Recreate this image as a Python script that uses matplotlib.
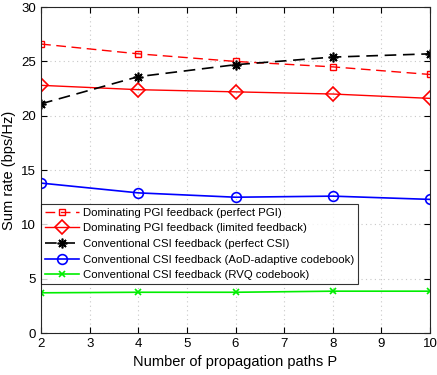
import matplotlib
matplotlib.use("Agg")
import matplotlib.pyplot as plt

plt.rcParams['font.family'] = ['Liberation Sans', 'DejaVu Sans']

P = [2, 4, 6, 8, 10]
pgi_perfect = [26.6, 25.7, 25.0, 24.5, 23.8]
pgi_limited = [22.8, 22.4, 22.2, 22.0, 21.6]
csi_perfect = [21.1, 23.6, 24.7, 25.4, 25.7]
csi_aod = [13.8, 12.9, 12.5, 12.6, 12.3]
csi_rvq = [3.7, 3.75, 3.75, 3.85, 3.85]

labels = ["Dominating PGI feedback (perfect PGI)",
          "Dominating PGI feedback (limited feedback)",
          "Conventional CSI feedback (perfect CSI)",
          "Conventional CSI feedback (AoD-adaptive codebook)",
          "Conventional CSI feedback (RVQ codebook)"]

fig = plt.figure(figsize=(4.37, 3.75), dpi=100)
ax = fig.add_axes([0.094, 0.112, 0.89, 0.869])

ax.plot(P, pgi_perfect, color='#ff0000', ls=(0, (7, 4)), marker='s', ms=5,
        mfc='none', mec='#ff0000', lw=1.0, label=labels[0])
ax.plot(P, pgi_limited, color='#ff0000', ls='-', marker='D', ms=7,
        mfc='none', mec='#ff0000', mew=1.2, lw=1.0, label=labels[1])
ax.plot(P, csi_perfect, color='black', ls=(0, (7, 4)), marker=(8, 2, 0), ms=7,
        mew=1.2, lw=1.2, label=labels[2])
ax.plot(P, csi_aod, color='#0000ff', ls='-', marker='o', ms=7,
        mfc='none', mec='#0000ff', mew=1.2, lw=1.2, label=labels[3])
ax.plot(P, csi_rvq, color='#00ee00', ls='-', marker='x', ms=5,
        mew=1.2, lw=1.2, label=labels[4])

ax.set_xlim(2, 10)
ax.set_ylim(0, 30)
ax.set_xticks(range(2, 11))
ax.set_yticks(range(0, 31, 5))
ax.tick_params(direction='in', top=True, right=True, labelsize=9.5, length=4)
ax.grid(True, ls=(0, (1, 3)), color='#c8c8c8', lw=0.8)
for s in ax.spines.values():
    s.set_linewidth(0.8)
    s.set_color('#262626')
ax.set_xlabel("Number of propagation paths P", fontsize=10.5)
ax.set_ylabel("Sum rate (bps/Hz)", fontsize=10.5)

leg = ax.legend(loc='upper left', bbox_to_anchor=(0, 0.397), fontsize=8.2,
                frameon=True, fancybox=False, edgecolor='black',
                borderpad=0.35, labelspacing=0.5, handlelength=3.0,
                handletextpad=0.3, borderaxespad=0)
leg.get_frame().set_linewidth(0.8)

fig.savefig("out.png", dpi=100)
